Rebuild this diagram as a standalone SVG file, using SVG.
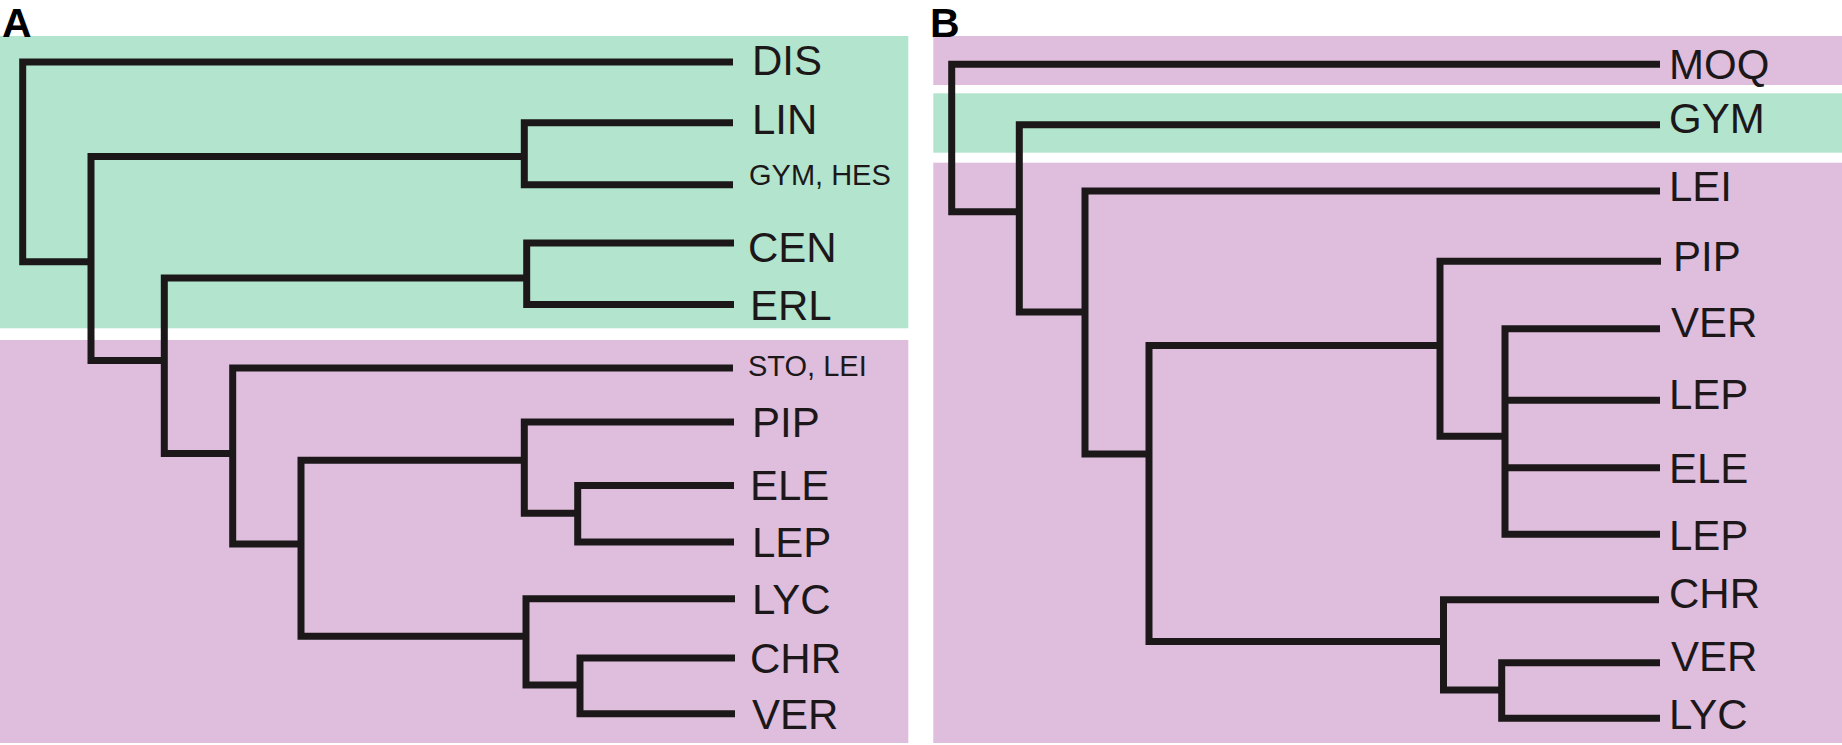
<svg xmlns="http://www.w3.org/2000/svg" width="1842" height="745" viewBox="0 0 1842 745">
<style>
.bg{fill:#ffffff}
.green{fill:#b3e4cd}
.purple{fill:#dfbddd}
.br{fill:none;stroke:#1c1819;stroke-width:7;stroke-linejoin:miter;stroke-linecap:butt}
.lbl{font-family:"Liberation Sans",Arial,Helvetica,sans-serif;font-size:42px;fill:#1c1819}
.sm{font-family:"Liberation Sans",Arial,Helvetica,sans-serif;font-size:29px;fill:#1c1819}
.panel{font-family:"Liberation Sans",Arial,Helvetica,sans-serif;font-size:41px;font-weight:bold;fill:#000}
</style>
<rect class="bg" x="0" y="0" width="1842" height="745"/>
<g id="bands">
<rect class="green" x="0" y="36" width="908.3" height="292.3"/>
<rect class="purple" x="0" y="340" width="908.3" height="403"/>
<rect class="purple" x="933.3" y="36" width="908.7" height="49"/>
<rect class="green" x="933.3" y="93.3" width="908.7" height="59.4"/>
<rect class="purple" x="933.3" y="162.7" width="908.7" height="580.3"/>
</g>
<g id="panel-labels">
<text class="panel" x="2" y="37">A</text>
<text class="panel" x="930" y="37">B</text>
</g>
<g id="connectors">
<path class="br" d="M733,62 H22.7 V261.7 H91"/>
<path class="br" d="M524.3,156.5 H91 V360.5 H164.3"/>
<path class="br" d="M733,122.7 H524.3 V184.7 H733"/>
<path class="br" d="M526.7,278 H164.3 V453.5 H232.7"/>
<path class="br" d="M734,243 H526.7 V304.5 H734"/>
<path class="br" d="M733,368 H232.7 V544 H301"/>
<path class="br" d="M524.3,460.3 H301 V636.3 H526"/>
<path class="br" d="M734,422 H524.3 V513.3 H577.7"/>
<path class="br" d="M734,485.5 H577.7 V542 H734"/>
<path class="br" d="M735,598.7 H526 V685 H580"/>
<path class="br" d="M735,658 H580 V713.7 H735"/>
<path class="br" d="M1660,64.3 H951.7 V211.7 H1019.3"/>
<path class="br" d="M1660,124.7 H1019.3 V312 H1085"/>
<path class="br" d="M1660,191 H1085 V454 H1149"/>
<path class="br" d="M1440,345.4 H1149 V641.5 H1443.5"/>
<path class="br" d="M1661,261.2 H1440 V436.3 H1505"/>
<path class="br" d="M1660,328.7 H1505 V534.2 H1660 M1505,400.3 H1660 M1505,467.8 H1660"/>
<path class="br" d="M1659,599.7 H1443.5 V690 H1501.7"/>
<path class="br" d="M1660,662.8 H1501.7 V718.3 H1660"/>
</g>
<g id="a-DIS"><text class="lbl" x="752" y="75">DIS</text></g>
<g id="a-LIN"><text class="lbl" x="752" y="133.5">LIN</text></g>
<g id="a-GYM-HES"><text class="sm" x="749" y="185">GYM, HES</text></g>
<g id="a-CEN"><text class="lbl" x="748" y="261.5">CEN</text></g>
<g id="a-ERL"><text class="lbl" x="750" y="319.5">ERL</text></g>
<g id="a-STO-LEI"><text class="sm" x="748" y="376">STO, LEI</text></g>
<g id="a-PIP"><text class="lbl" x="752" y="437">PIP</text></g>
<g id="a-ELE"><text class="lbl" x="750" y="500">ELE</text></g>
<g id="a-LEP"><text class="lbl" x="752" y="557">LEP</text></g>
<g id="a-LYC"><text class="lbl" x="752" y="614">LYC</text></g>
<g id="a-CHR"><text class="lbl" x="750" y="673">CHR</text></g>
<g id="a-VER"><text class="lbl" x="752" y="729">VER</text></g>
<g id="b-MOQ"><text class="lbl" x="1669" y="79">MOQ</text></g>
<g id="b-GYM"><text class="lbl" x="1669" y="133">GYM</text></g>
<g id="b-LEI"><text class="lbl" x="1669" y="200.5">LEI</text></g>
<g id="b-PIP"><text class="lbl" x="1673" y="270.5">PIP</text></g>
<g id="b-VER1"><text class="lbl" x="1671" y="337">VER</text></g>
<g id="b-LEP1"><text class="lbl" x="1669" y="409">LEP</text></g>
<g id="b-ELE"><text class="lbl" x="1669" y="482.5">ELE</text></g>
<g id="b-LEP2"><text class="lbl" x="1669" y="550">LEP</text></g>
<g id="b-CHR"><text class="lbl" x="1669" y="608">CHR</text></g>
<g id="b-VER2"><text class="lbl" x="1671" y="670.5">VER</text></g>
<g id="b-LYC"><text class="lbl" x="1669" y="729">LYC</text></g>
</svg>
